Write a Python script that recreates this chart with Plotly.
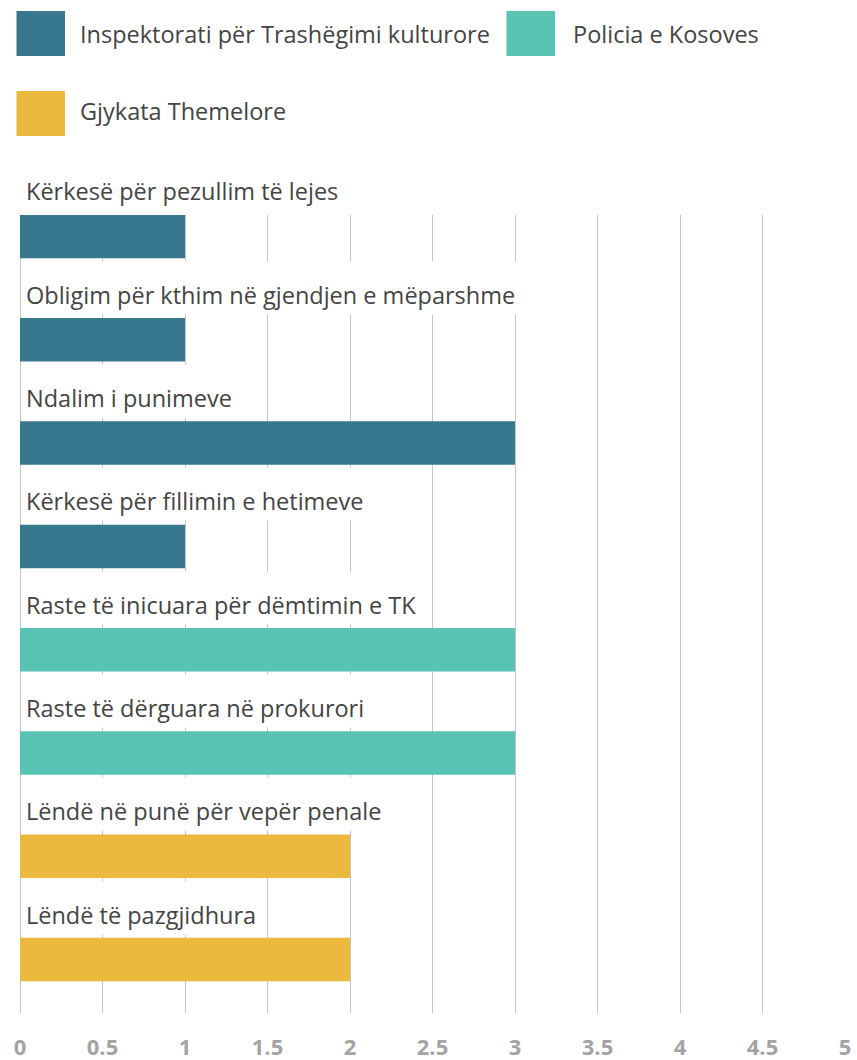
import plotly.graph_objects as go

# ---- data ----
categories = [
    "Kërkesë për pezullim të lejes",
    "Obligim për kthim në gjendjen e mëparshme",
    "Ndalim i punimeve",
    "Kërkesë për fillimin e hetimeve",
    "Raste të inicuara për dëmtimin e TK",
    "Raste të dërguara në prokurori",
    "Lëndë në punë për vepër penale",
    "Lëndë të pazgjidhura",
]
values = [1, 1, 3, 1, 3, 3, 2, 2]
series_names = ["Inspektorati për Trashëgimi kulturore", "Policia e Kosoves", "Gjykata Themelore"]
series_of_category = [0, 0, 0, 0, 1, 1, 2, 2]
series_colors = ["#37788f", "#59c4b3", "#ecb93f"]
x_ticks = [0, 0.5, 1, 1.5, 2, 2.5, 3, 3.5, 4, 4.5, 5]
x_tick_labels = ["0", "0.5", "1", "1.5", "2", "2.5", "3", "3.5", "4", "4.5", "5"]

# ---- layout constants ----
W, H = 857, 1060
ML, MR, MT, MB = 20, 12, 215, 47
PW, PH = W - ML - MR, H - MT - MB
BAR_W = 0.421
FONT = "Open Sans"
TXT = "#444444"

fig = go.Figure()
for s, name in enumerate(series_names):
    ys = [c for c, k in zip(categories, series_of_category) if k == s]
    xs = [v for v, k in zip(values, series_of_category) if k == s]
    fig.add_trace(go.Bar(
        x=xs, y=ys, orientation="h", name=name,
        marker=dict(color=series_colors[s], line=dict(width=0)),
        width=BAR_W, showlegend=False, hoverinfo="x+y",
    ))

# category labels above each bar (white boxes hide the gridlines behind text)
for c in categories:
    fig.add_annotation(
        x=0, y=c, xref="x", yref="y", text=c, showarrow=False,
        xanchor="left", yanchor="bottom", xshift=1.5, yshift=25,
        height=46, valign="bottom", align="left", borderpad=3, borderwidth=1,
        bordercolor="rgba(0,0,0,0)",
        bgcolor="white", font=dict(family=FONT, size=23.5, color=TXT),
    )

# custom legend
def pxx(px):
    return (px - ML) / PW

def pyy(py):
    return (H - MB - py) / PH

legend_pos = [(16.5, 11, 65, 56, 78, 34.5), (506.5, 11, 555, 56, 571, 34.5), (16.5, 91, 65, 136, 78, 111)]
for s, name in enumerate(series_names):
    x0, y0, x1, y1, tx, ty = legend_pos[s]
    fig.add_shape(type="rect", xref="paper", yref="paper",
                  x0=pxx(x0), x1=pxx(x1), y0=pyy(y1), y1=pyy(y0),
                  fillcolor=series_colors[s], line=dict(width=0))
    fig.add_annotation(x=pxx(tx), y=pyy(ty), xref="paper", yref="paper",
                       text=name, showarrow=False, xanchor="left", yanchor="middle",
                       font=dict(family=FONT, size=23.5, color=TXT))

fig.update_layout(
    width=W, height=H,
    margin=dict(l=ML, r=MR, t=MT, b=MB, pad=0, autoexpand=False),
    paper_bgcolor="white", plot_bgcolor="white",
    barmode="overlay",
    showlegend=False,
    xaxis=dict(
        range=[0, 5], tickvals=x_ticks, ticktext=x_tick_labels,
        showgrid=True, gridcolor="#c4c4c4", gridwidth=1,
        zeroline=True, zerolinecolor="#c4c4c4", zerolinewidth=1,
        showline=False, ticks="", ticklabelstandoff=19, automargin=False,
        tickfont=dict(family=FONT, size=22, color="#a3a3a3", weight="bold"),
        fixedrange=True,
    ),
    yaxis=dict(
        categoryorder="array", categoryarray=categories,
        range=[7.517, -0.208], showticklabels=False, showgrid=False,
        zeroline=False, showline=False, ticks="", fixedrange=True, automargin=False,
    ),
)

fig.write_html(
    "out.html",
    config={"displayModeBar": False},
    post_script="document.body.style.margin='0';document.body.style.overflow='hidden';",
)
